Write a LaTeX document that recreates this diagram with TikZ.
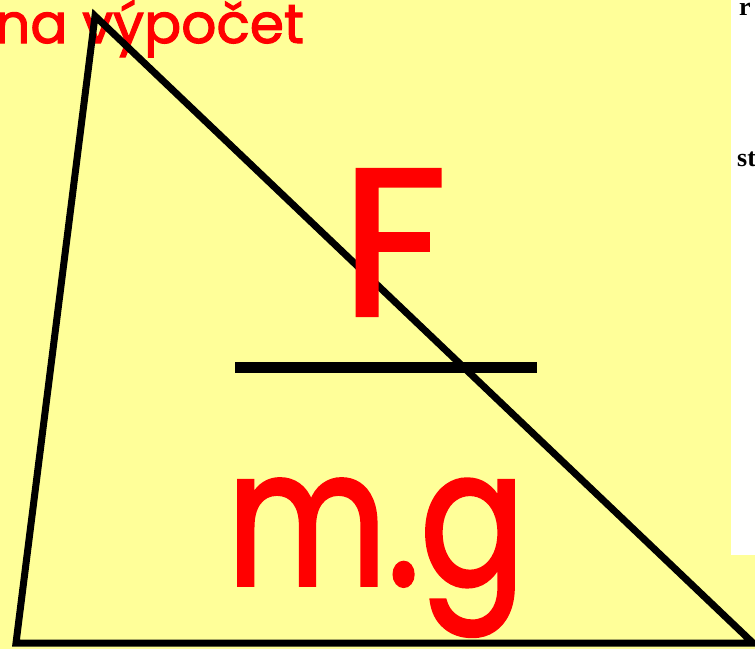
\documentclass[tikz,border=0pt]{standalone}
\usepackage{fontspec}
\setmainfont{Poppins}
\newfontfamily\bigfont[FakeBold=2]{Poppins}
\newfontfamily\serifsmall{Liberation Serif}
\definecolor{bgyellow}{HTML}{FFFF99}
\definecolor{txtred}{HTML}{FF0000}
\tikzset{
  lbl/.style={text=txtred, inner sep=0pt, anchor=base},
  edge/.style={draw=black, line width=7pt, line join=miter},
  bar/.style={draw=black, line width=11pt}
}
\begin{document}
\begin{tikzpicture}[x=1pt,y=-1pt]
\useasboundingbox (0,0) rectangle (755,649);
\clip (0,0) rectangle (755,649);
\fill[bgyellow] (0,0) rectangle (755,649);
\fill[white] (731,0) rectangle (755,555);
\node[inner sep=0pt, anchor=base west] (r) at (739,15) {\serifsmall\bfseries\fontsize{26}{26}\selectfont r};
\node[inner sep=0pt, anchor=base west] (st) at (737,166) {\serifsmall\bfseries\fontsize{26}{26}\selectfont st};
\node[lbl, anchor=base west] (title) at (-5,43) {\bigfont\fontsize{55}{55}\selectfont na výpočet};
\coordinate (A) at (95,16);
\coordinate (B) at (16,643);
\coordinate (C) at (753,643);
\draw[edge] (A) -- (B) -- (C) -- cycle;
\node[lbl] (F) at (394,315) {\bigfont\fontsize{208}{208}\selectfont F};
\coordinate (b1) at (235,367);
\coordinate (b2) at (537,367);
\draw[bar] (b1) -- (b2);
\node[lbl] (mg) at (376,585) {\scalebox{0.82}[1]{\bigfont\fontsize{190}{190}\selectfont m.g}};
\end{tikzpicture}
\end{document}
